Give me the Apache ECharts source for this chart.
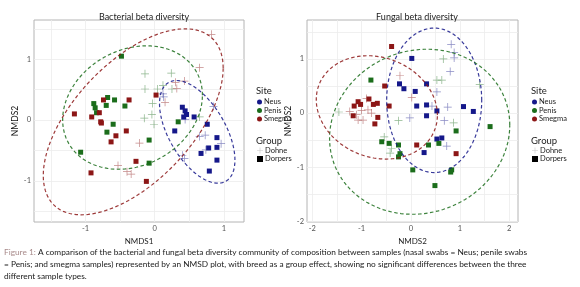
<!DOCTYPE html>
<html>
<head>
    <meta charset="UTF-8">
    <script type="text/javascript" src="https://cdn.jsdelivr.net/npm/echarts@6/dist/echarts.min.js"></script>
    <title>beta diversity</title>
    <style>
        html, body { margin: 0; padding: 0; background: #fff; }
        #chart { width: 580px; height: 287px; }
    </style>
</head>
<body>
    <div id="chart"></div>
    <script type="text/javascript">
    // ---- data (NMDS scores) ----
    var sites = ['Neus', 'Penis', 'Smegma'];
    var groups = ['Dohne', 'Dorpers'];

    // bacterial panel
    var bacNeusDorpers = [[0.40,0.21],[0.44,0.15],[0.46,0.09],[0.42,0.05],[0.57,0.05],[0.29,-0.18],[0.76,-0.07],[0.90,-0.29],[0.78,-0.46],[0.90,-0.45],[0.67,-0.55],[0.90,-0.66],[0.79,-0.84]];
    var bacNeusDohne = [[0.12,0.43],[0.13,0.38],[0.85,0.22],[0.44,0.01],[0.65,-0.27],[0.73,-0.25],[0.96,-0.39],[0.74,-0.49],[0.43,-0.63],[0.40,-0.58]];
    var bacPenisDorpers = [[-0.48,1.05],[-0.88,0.27],[-0.86,0.20],[-0.84,0.12],[-0.68,0.37],[-0.58,0.33],[-0.70,0.24],[-0.43,0.23],[-0.60,-0.07],[-0.69,-0.20],[-1.07,-0.53],[-0.08,-0.33],[-0.08,-0.71],[0.34,-0.03]];
    var bacPenisDohne = [[-0.14,0.76],[0.24,0.77],[-0.14,0.51],[0.04,0.51],[0.12,0.57],[0.25,0.51],[-0.03,0.27],[-0.15,0.03],[-0.01,-0.07],[-0.04,0.09],[0.65,0.05]];
    var bacSmegmaDorpers = [[-1.16,0.10],[-0.74,0.33],[-0.37,0.33],[-0.91,0.05],[-0.80,0.12],[-0.78,-0.03],[-0.77,-0.05],[-0.56,-0.26],[-0.63,-0.36],[-0.41,-0.18],[0.02,0.41],[-0.27,-0.68],[-0.92,-0.87],[-0.12,-1.01]];
    var bacSmegmaDohne = [[0.82,1.41],[0.65,0.86],[0.30,0.62],[0.43,0.64],[0.32,0.52],[0.15,0.29],[-0.22,-0.38],[-0.53,-0.75],[-0.40,-0.85],[-0.34,-0.89]];

    // fungal panel
    var funNeusDorpers = [[0.02,1.01],[-0.23,0.54],[-0.14,0.45],[0.09,0.40],[0.32,0.54],[0.12,0.13],[0.32,0.15],[0.32,-0.05],[0.53,0.04],[1.07,0.12],[1.27,0.03],[0.53,-0.48],[0.63,-0.46],[0.27,-0.73]];
    var funNeusDohne = [[0.82,1.27],[0.88,1.12],[0.88,1.02],[0.80,0.77],[0.53,0.39],[0.75,0.11],[0.43,0.13],[-0.02,-0.09],[0.68,-0.14],[0.73,-0.61]];
    var funPenisDorpers = [[-0.81,0.61],[-0.59,-0.53],[-0.44,-0.56],[-0.25,-0.59],[-0.22,-0.75],[-0.25,-0.81],[0.04,-1.05],[0.36,-0.59],[0.57,-0.56],[0.92,-0.33],[1.61,-0.25],[0.83,-1.05],[0.81,-1.09],[0.49,-1.34]];
    var funPenisDohne = [[0.66,1.00],[0.53,0.61],[0.63,0.61],[1.40,0.53],[-0.25,-0.14],[0.87,-0.18],[-1.46,0.02],[-0.54,-0.44],[-0.42,-0.74],[-0.39,-0.65]];
    var funSmegmaDorpers = [[-0.39,1.23],[-0.53,0.50],[-0.44,0.13],[-1.15,0.13],[-1.07,0.21],[-1.02,0.16],[-0.85,0.26],[-0.76,0.16],[-0.68,0.18],[-1.17,-0.05],[-0.67,-0.08],[-0.73,-0.20],[0.12,-0.59],[0.92,-0.75]];
    var funSmegmaDohne = [[-0.22,0.69],[0.02,0.29],[-0.90,0.27],[-1.24,0.03],[-1.10,-0.03],[-1.00,0.05],[-0.87,0.06],[-0.80,0.00],[-1.07,-0.13],[-0.97,-0.13]];

    // site ellipses: [centre x, centre y, half-width x, half-height y, correlation]
    var bacEllipses = [[0.615,-0.195,0.545,0.845,-0.55],[-0.32,0.205,1.01,1.015,0.2],[-0.31,-0.03,1.30,1.53,0.578]];
    var funEllipses = [[0.475,0.235,0.965,1.335,0.0],[0.18,-0.345,1.83,1.525,0.08],[-0.69,0.105,1.23,0.955,-0.15]];

    // tick labels and grid lines
    var bacXTicks = [-1, 0, 1];
    var bacYTicks = [-1, 0, 1];
    var funXTicks = [-2, -1, 0, 1, 2];
    var funYTicks = [-2, -1, 0, 1];
    var bacXGrid = [-1.5, -1, -0.5, 0, 0.5, 1];
    var bacYGrid = [-1.5, -1, -0.5, 0, 0.5, 1, 1.5];
    var funXGrid = [-2, -1.5, -1, -0.5, 0, 0.5, 1, 1.5, 2];
    var funYGrid = [-2, -1.5, -1, -0.5, 0, 0.5, 1, 1.5];

    var siteColors = ['#15188a', '#1b6d1b', '#8c1616'];
    var FONT = 'Lato, "Open Sans", sans-serif';
    var crossPath = 'path://M4.55,0h0.9v10h-0.9z M0,4.55h10v0.9h-10z';

    var chart = echarts.init(document.getElementById('chart'));

    function xAxis(idx, min, max, labels, grid, name) {
        return {
            type: 'value', gridIndex: idx, min: min, max: max,
            name: name, nameLocation: 'middle', nameGap: 11,
            nameTextStyle: { fontFamily: FONT, fontSize: 8, color: '#222' },
            axisLine: { show: false },
            axisTick: { show: false, customValues: grid },
            axisLabel: { customValues: labels, fontFamily: FONT, fontSize: 7.5, color: '#555', margin: 3 },
            splitLine: { show: true, lineStyle: { color: '#ececec', width: 0.8 } }
        };
    }
    function yAxis(idx, min, max, labels, grid) {
        return {
            type: 'value', gridIndex: idx, min: min, max: max,
            name: 'NMDS2', nameLocation: 'middle', nameGap: 12, nameRotate: 90,
            nameTextStyle: { fontFamily: FONT, fontSize: 8.5, color: '#111' },
            axisLine: { show: false },
            axisTick: { show: false, customValues: grid },
            axisLabel: { customValues: labels, fontFamily: FONT, fontSize: 7.5, color: '#555', margin: 3 },
            splitLine: { show: true, lineStyle: { color: '#ececec', width: 0.8 } }
        };
    }

    function ellipseSeries(idx, params, siteIdx) {
        return {
            type: 'custom', name: sites[siteIdx], xAxisIndex: idx, yAxisIndex: idx,
            clip: true, silent: true, z: 3,
            data: [params],
            renderItem: function (p, api) {
                var cx = api.value(0), cy = api.value(1), sx = api.value(2), sy = api.value(3), r = api.value(4);
                var pts = [];
                for (var i = 0; i <= 120; i++) {
                    var t = i / 120 * Math.PI * 2;
                    pts.push(api.coord([cx + sx * Math.cos(t), cy + sy * (r * Math.cos(t) + Math.sqrt(1 - r * r) * Math.sin(t))]));
                }
                return {
                    type: 'polyline',
                    shape: { points: pts },
                    style: { stroke: siteColors[siteIdx], opacity: 0.85, lineWidth: 1.2, lineDash: [3.5, 2.5], fill: null }
                };
            }
        };
    }

    function pointSeries(idx, data, siteIdx, groupIdx) {
        var dohne = groupIdx === 0;
        return {
            type: 'scatter', name: groups[groupIdx], xAxisIndex: idx, yAxisIndex: idx,
            symbol: dohne ? crossPath : 'rect',
            symbolSize: dohne ? 8 : 5,
            itemStyle: { color: siteColors[siteIdx], opacity: dohne ? 0.5 : 1 },
            z: 2,
            data: data
        };
    }

    var series = [
        pointSeries(0, bacNeusDohne, 0, 0), pointSeries(0, bacPenisDohne, 1, 0), pointSeries(0, bacSmegmaDohne, 2, 0),
        pointSeries(0, bacNeusDorpers, 0, 1), pointSeries(0, bacPenisDorpers, 1, 1), pointSeries(0, bacSmegmaDorpers, 2, 1),
        pointSeries(1, funNeusDohne, 0, 0), pointSeries(1, funPenisDohne, 1, 0), pointSeries(1, funSmegmaDohne, 2, 0),
        pointSeries(1, funNeusDorpers, 0, 1), pointSeries(1, funPenisDorpers, 1, 1), pointSeries(1, funSmegmaDorpers, 2, 1)
    ];
    for (var s = 0; s < 3; s++) {
        series.push(ellipseSeries(0, bacEllipses[s], s));
        series.push(ellipseSeries(1, funEllipses[s], s));
    }

    function siteLegend(left) {
        return {
            orient: 'vertical', left: left, top: 93, itemGap: 0.5, itemWidth: 5, itemHeight: 5,
            selectedMode: false,
            textStyle: { fontFamily: FONT, fontSize: 7.5, color: '#222', padding: [0, 0, 0, -3] },
            data: sites.map(function (n, i) {
                return { name: n, icon: 'circle', itemStyle: { color: siteColors[i] } };
            })
        };
    }
    function groupLegend(left) {
        return {
            orient: 'vertical', left: left, top: 141.5, itemGap: 0.5, itemWidth: 6, itemHeight: 6,
            selectedMode: false,
            textStyle: { fontFamily: FONT, fontSize: 7.5, color: '#222', padding: [0, 0, 0, -3] },
            data: [
                { name: 'Dohne', icon: crossPath, itemStyle: { color: '#888' } },
                { name: 'Dorpers', icon: 'rect', itemStyle: { color: '#000' } }
            ]
        };
    }

    var option = {
        animation: false,
        backgroundColor: '#fff',
        title: [
            { text: 'Bacterial beta diversity', left: 139, top: 8, textAlign: 'center', textStyle: { fontFamily: FONT, fontSize: 9, fontWeight: 'normal', color: '#222' } },
            { text: 'Fungal beta diversity', left: 412, top: 8, textAlign: 'center', textStyle: { fontFamily: FONT, fontSize: 9, fontWeight: 'normal', color: '#222' } },
            { text: 'Site', left: 251, top: 81, textStyle: { fontFamily: FONT, fontSize: 9.5, fontWeight: 'normal', color: '#222' } },
            { text: 'Group', left: 251, top: 131, textStyle: { fontFamily: FONT, fontSize: 9.5, fontWeight: 'normal', color: '#222' } },
            { text: 'Site', left: 526, top: 81, textStyle: { fontFamily: FONT, fontSize: 9.5, fontWeight: 'normal', color: '#222' } },
            { text: 'Group', left: 526, top: 131, textStyle: { fontFamily: FONT, fontSize: 9.5, fontWeight: 'normal', color: '#222' } }
        ],
        legend: [siteLegend(252), groupLegend(252), siteLegend(527), groupLegend(527)],
        grid: [
            { left: 34, top: 20, width: 210, height: 202, show: true, borderColor: '#b4b4b4', borderWidth: 1, backgroundColor: '#fff' },
            { left: 307, top: 20, width: 211, height: 202, show: true, borderColor: '#b4b4b4', borderWidth: 1, backgroundColor: '#fff' }
        ],
        xAxis: [
            xAxis(0, -1.744, 1.291, bacXTicks, bacXGrid, 'NMDS1'),
            xAxis(1, -2.108, 2.177, funXTicks, funXGrid, 'NMDS2')
        ],
        yAxis: [
            yAxis(0, -1.678, 1.645, bacYTicks, bacYGrid),
            yAxis(1, -2.013, 1.72, funYTicks, funYGrid)
        ],
        graphic: [
            { type: 'text', left: 4, top: 248, style: { text: '{f|Figure 1:} A comparison of the bacterial and fungal beta diversity community of composition between samples (nasal swabs = Neus; penile swabs', font: '8.3px Lato', fill: '#1a1a1a', rich: { f: { fill: '#a88a8a', fontFamily: FONT, fontSize: 8.3 } } } },
            { type: 'text', left: 4, top: 260, style: { text: '= Penis; and smegma samples) represented by an NMSD plot, with breed as a group effect, showing no significant differences between the three', font: '8.3px Lato', fill: '#1a1a1a' } },
            { type: 'text', left: 4, top: 272, style: { text: 'different sample types.', font: '8.3px Lato', fill: '#1a1a1a' } }
        ],
        series: series
    };
    chart.setOption(option);
    </script>
</body>
</html>
